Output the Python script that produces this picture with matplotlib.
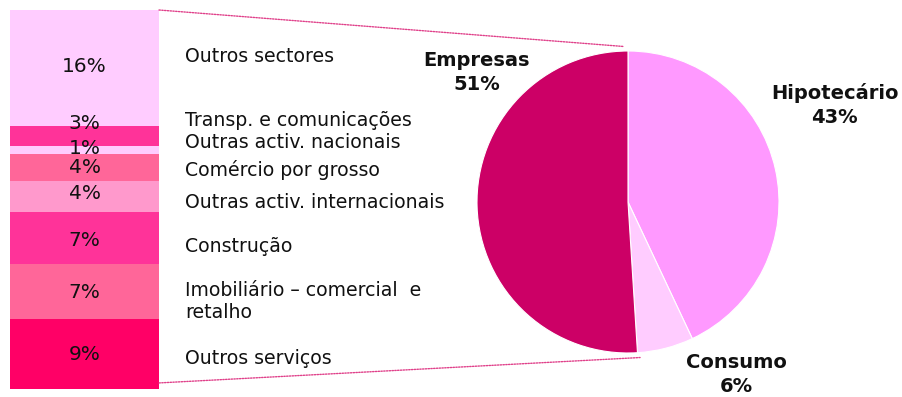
import matplotlib
matplotlib.use("Agg")
import matplotlib.pyplot as plt
from matplotlib.patches import ConnectionPatch
from matplotlib import font_manager

# ---------------- data ----------------
# stacked bar (bottom -> top), heights (in %)
sector_names = ["Outros serviços", "Imobiliário – comercial  e\nretalho", "Construção",
                "Outras activ. internacionais", "Comércio por grosso",
                "Outras activ. nacionais", "Transp. e comunicações", "Outros sectores"]
sector_values = [9.4, 7.4, 7.0, 4.2, 3.6, 1.1, 2.7, 15.6]
sector_labels = ["9%", "7%", "7%", "4%", "4%", "1%", "3%", "16%"]
sector_colors = ["#FF0066", "#FF6699", "#FF3399", "#FF99CC", "#FF6699",
                 "#FFCCFF", "#FF3399", "#FFCCFF"]

# pie (clockwise from top)
pie_names = ["Hipotecário", "Consumo", "Empresas"]
pie_values = [43, 6, 51]
pie_labels = ["43%", "6%", "51%"]
pie_colors = ["#FF99FF", "#FFCCFF", "#CC0066"]

# ---------------- layout ----------------
W, H = 903, 397
fig = plt.figure(figsize=(W / 100, H / 100), dpi=100)

avail = {f.name for f in font_manager.fontManager.ttflist}
pct_family = "Liberation Sans Narrow" if "Liberation Sans Narrow" in avail else "DejaVu Sans"
pct_size = 18.5 if pct_family == "Liberation Sans Narrow" else 14.5

# bar axes (pixels: x 10-159, y 10-389)
axb = fig.add_axes([10 / W, (H - 389) / H, 149 / W, 379 / H])
bottom = 0.0
total = sum(sector_values)
# small vertical offsets (pixels) of the % labels relative to segment centres
pct_offsets = [0, -1, -2, 3, 0, 2, 12, 1]
for v, c, lab, off in zip(sector_values, sector_colors, sector_labels, pct_offsets):
    axb.bar(0, v, bottom=bottom, width=1.0, color=c, edgecolor="none")
    axb.annotate(lab, (0, bottom + v / 2), xytext=(0, off * 0.72), textcoords="offset points",
                 ha="center", va="center", fontsize=pct_size, family=pct_family, color="#111111")
    bottom += v
axb.set_xlim(-0.5, 0.5)
axb.set_ylim(0, total)
axb.axis("off")

# category labels (pixel y centres)
name_y = [358, 302, 246, 203, 170, 143, 121, 57]
for name, y in zip(sector_names, name_y):
    fig.text(185 / W, 1 - y / H, name, ha="left", va="center", fontsize=13.6,
             family="DejaVu Sans", color="#111111", linespacing=1.2)

# pie axes (centre 628,202 radius 151)
R = 151
axp = fig.add_axes([(628 - R) / W, (H - 202 - R) / H, 2 * R / W, 2 * R / H])
axp.pie(pie_values, colors=pie_colors, startangle=90, counterclock=False,
        radius=1.0, wedgeprops=dict(edgecolor="white", linewidth=0.8))
axp.set_xlim(-1, 1)
axp.set_ylim(-1, 1)
axp.set_aspect("equal")
axp.axis("off")

pie_text_pos = [(1.37, 0.64), (0.715, -1.14), (-1.0, 0.86)]
for name, lab, (x, y) in zip(pie_names, pie_labels, pie_text_pos):
    axp.text(x, y, f"{name}\n{lab}", ha="center", va="center", fontsize=14,
             fontweight="bold", family="DejaVu Sans", color="#111111", linespacing=1.35)

# dotted connector lines
for (bx, by), (px, py) in [((1.0, 1.0), (-0.03, 1.03)), ((1.0, 0.016), (0.08, -1.03))]:
    con = ConnectionPatch(xyA=(bx, by), coordsA=axb.transAxes, xyB=(px, py), coordsB=axp.transData,
                          color="#E0408A", linestyle=(0, (1, 1)), linewidth=1.0)
    fig.add_artist(con)

fig.savefig("out.png", dpi=100)
